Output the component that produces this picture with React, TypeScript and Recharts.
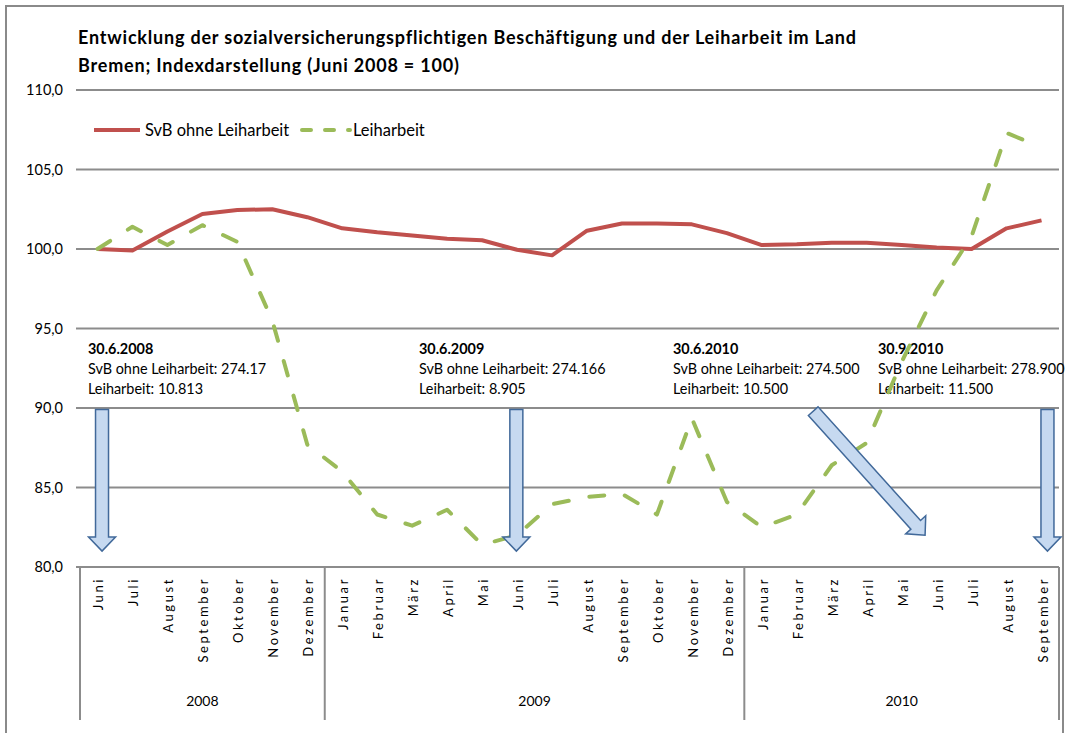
import React from 'react';
import { LineChart, Line, XAxis, YAxis, CartesianGrid, Legend, ReferenceLine } from 'recharts';

const FONT = 'Lato, "Open Sans", "DejaVu Sans", sans-serif';

// ---------- data ----------
const monthLabels = [
  'Juni', 'Juli', 'August', 'September', 'Oktober', 'November', 'Dezember',
  'Januar', 'Februar', 'März', 'April', 'Mai', 'Juni', 'Juli', 'August', 'September', 'Oktober', 'November', 'Dezember',
  'Januar', 'Februar', 'März', 'April', 'Mai', 'Juni', 'Juli', 'August', 'September',
];
const svbValues = [
  100.0, 99.9, 101.1, 102.2, 102.45, 102.5, 102.0,
  101.3, 101.05, 100.85, 100.65, 100.55, 99.95, 99.6, 101.15, 101.6, 101.6, 101.55, 101.0,
  100.25, 100.3, 100.4, 100.4, 100.25, 100.1, 100.0, 101.3, 101.8,
];
const leiharbeitValues = [
  100.0, 101.4, 100.25, 101.5, 100.45, 95.5, 87.7,
  86.0, 83.3, 82.6, 83.6, 81.4, 82.0, 83.95, 84.4, 84.6, 83.3, 89.35, 84.1,
  82.5, 83.3, 86.4, 87.8, 92.9, 97.4, 100.8, 107.3, 106.4,
];
const yearLabels = ['2008', '2009', '2010'];
const yearMonthCounts = [7, 12, 9];
const yTicks = [80, 85, 90, 95, 100, 105, 110];
const seriesNames = ['SvB ohne Leiharbeit', 'Leiharbeit'];

const titleLines = [
  'Entwicklung der sozialversicherungspflichtigen Beschäftigung und der Leiharbeit im Land',
  'Bremen; Indexdarstellung (Juni 2008 = 100)',
];
const annotationDates = ['30.6.2008', '30.6.2009', '30.6.2010', '30.9.2010'];
const annotationSvb = [
  'SvB ohne Leiharbeit: 274.17',
  'SvB ohne Leiharbeit: 274.166',
  'SvB ohne Leiharbeit: 274.500',
  'SvB ohne Leiharbeit: 278.900',
];
const annotationLeih = ['Leiharbeit: 10.813', 'Leiharbeit: 8.905', 'Leiharbeit: 10.500', 'Leiharbeit: 11.500'];

// arrows (start / end in data coordinates: month index, index value)
const arrowStartIdx = [0.13, 11.98, 20.47, 27.17];
const arrowEndIdx = [0.13, 11.98, 23.67, 27.17];
const arrowStartValue = [89.9, 89.9, 89.8, 89.9];
const arrowEndValue = [81.0, 81.0, 82.0, 81.0];

// ---------- derived ----------
const data = monthLabels.map((m, i) => ({
  idx: i,
  month: m,
  svb: svbValues[i],
  leih: leiharbeitValues[i],
}));

const yearStarts: number[] = [];
yearMonthCounts.reduce((acc, c) => {
  yearStarts.push(acc);
  return acc + c;
}, 0);
const yearCenters = yearStarts.map((s, i) => s + (yearMonthCounts[i] - 1) / 2);
const separators = [...yearStarts.map((s) => s - 0.5), monthLabels.length - 0.5];
const xTicks = Array.from(
  new Set([...monthLabels.map((_, i) => i), ...separators, ...yearCenters])
).sort((a, b) => a - b);

const GRID = '#8c8c8c';

const renderAxisTick = (props: any) => {
  const { x, y, payload } = props;
  const v = payload.value as number;
  const parts: React.ReactNode[] = [];
  if (Number.isInteger(v) && v >= 0 && v < monthLabels.length) {
    parts.push(
      <text
        key="m"
        transform={`translate(${x + 1},${y + 10}) rotate(-90)`}
        textAnchor="end"
        dominantBaseline="central"
        fontSize={13}
        letterSpacing={2.6}
        fill="#000"
        fontFamily={FONT}
      >
        {monthLabels[v]}
      </text>
    );
  }
  const si = separators.indexOf(v);
  if (si >= 0) {
    parts.push(<line key="s" x1={x} y1={y} x2={x} y2={y + 153} stroke={GRID} strokeWidth={2} />);
  }
  const yi = yearCenters.indexOf(v);
  if (yi >= 0) {
    parts.push(
      <text key="y" x={x} y={y + 139} textAnchor="middle" fontSize={14} fill="#000" fontFamily={FONT}>
        {yearLabels[yi]}
      </text>
    );
  }
  return <g>{parts}</g>;
};

const arrowShape = (p: any) => {
  const { x1, y1, x2, y2 } = p;
  const dx = x2 - x1;
  const dy = y2 - y1;
  const L = Math.sqrt(dx * dx + dy * dy) || 1;
  const ux = dx / L;
  const uy = dy / L;
  const nx = -uy;
  const ny = ux;
  const sw = 6.5;
  const hw = 13.5;
  const hl = 14;
  const bx = x2 - ux * hl;
  const by = y2 - uy * hl;
  const pts = [
    [x1 + nx * sw, y1 + ny * sw],
    [bx + nx * sw, by + ny * sw],
    [bx + nx * hw, by + ny * hw],
    [x2, y2],
    [bx - nx * hw, by - ny * hw],
    [bx - nx * sw, by - ny * sw],
    [x1 - nx * sw, y1 - ny * sw],
  ];
  return (
    <polygon
      points={pts.map((q) => `${q[0]},${q[1]}`).join(' ')}
      fill="#c6d9f0"
      stroke="#41699a"
      strokeWidth={1.5}
      strokeLinejoin="miter"
    />
  );
};

const renderLegend = (props: any) => {
  const payload = props.payload || [];
  const ordered = seriesNames
    .map((n) => payload.find((e: any) => e.value === n))
    .filter(Boolean);
  const sampleX = [6, 214];
  const textX = [57, 265];
  return (
    <svg width={400} height={30} style={{ overflow: 'visible' }}>
      {ordered.map((e: any, i: number) => {
        const dash = e.payload && e.payload.strokeDasharray ? '9 14' : undefined;
        return (
          <g key={i}>
            <line
              x1={sampleX[i]}
              x2={sampleX[i] + (dash ? 48 : 46)}
              y1={15}
              y2={15}
              stroke={e.color}
              strokeWidth={4}
              strokeDasharray={dash}
              strokeLinecap={dash ? 'round' : 'butt'}
            />
            <text x={textX[i]} y={21} fontSize={16.5} fill="#000" fontFamily={FONT}>
              {e.value}
            </text>
          </g>
        );
      })}
    </svg>
  );
};

export default function App() {
  return (
    <div
      style={{
        position: 'absolute',
        left: 0,
        top: 0,
        width: 1066,
        height: 733,
        overflow: 'hidden',
        background: '#fff',
        fontFamily: FONT,
      }}
    >
      <div
        style={{
          position: 'absolute',
          left: 5,
          top: 5,
          width: 1059,
          height: 780,
          border: '2px solid #8a8a8a',
          boxSizing: 'border-box',
        }}
      />
      <div
        style={{
          position: 'absolute',
          left: 78,
          top: 23,
          fontWeight: 700,
          fontSize: 18,
          letterSpacing: 0.8,
          lineHeight: '28px',
          color: '#000',
          whiteSpace: 'nowrap',
        }}
      >
        {titleLines.map((t, i) => (
          <div key={i}>{t}</div>
        ))}
      </div>
      {annotationDates.map((d, i) => {
        const lefts = [88, 419, 673, 878];
        return (
          <div
            key={i}
            style={{
              position: 'absolute',
              left: lefts[i],
              top: 339,
              fontSize: 14.4,
              lineHeight: '20px',
              color: '#000',
              whiteSpace: 'nowrap',
            }}
          >
            <div style={{ fontWeight: 700 }}>{d}</div>
            <div>{annotationSvb[i]}</div>
            <div>{annotationLeih[i]}</div>
          </div>
        );
      })}
      <div style={{ position: 'absolute', left: 0, top: 0 }}>
        <LineChart width={1066} height={733} data={data} margin={{ top: 90, right: 7, bottom: 0, left: 0 }}>
          <CartesianGrid vertical={false} stroke={GRID} strokeWidth={2} />
          <XAxis
            dataKey="idx"
            type="number"
            domain={[-0.5, monthLabels.length - 0.5]}
            ticks={xTicks}
            interval={0}
            height={166}
            tickLine={false}
            axisLine={false}
            tickSize={0}
            tickMargin={0}
            tick={renderAxisTick}
            allowDataOverflow
          />
          <YAxis
            domain={[80, 110]}
            ticks={yTicks}
            interval={0}
            width={80}
            axisLine={false}
            tickLine={{ stroke: GRID, strokeWidth: 2 }}
            tickSize={4}
            tickMargin={13}
            tick={{ fontSize: 14.5, fill: '#000', fontFamily: FONT }}
            tickFormatter={(v: number) => v.toFixed(1).replace('.', ',')}
          />
          <Legend
            layout="horizontal"
            verticalAlign="middle"
            align="center"
            content={renderLegend}
            wrapperStyle={{ left: 88, top: 115, width: 400, height: 30 }}
          />
          <Line
            dataKey="svb"
            name={seriesNames[0]}
            stroke="#c0504d"
            strokeWidth={4}
            strokeLinejoin="round"
            dot={false}
            activeDot={false}
            isAnimationActive={false}
          />
          <Line
            dataKey="leih"
            name={seriesNames[1]}
            stroke="#9bbb59"
            strokeWidth={4}
            strokeDasharray="15 21"
            strokeLinecap="round"
            strokeLinejoin="round"
            dot={false}
            activeDot={false}
            isAnimationActive={false}
          />
          {arrowStartIdx.map((s, i) => (
            <ReferenceLine
              key={`arrow-${i}`}
              segment={[
                { x: s, y: arrowStartValue[i] },
                { x: arrowEndIdx[i], y: arrowEndValue[i] },
              ]}
              shape={arrowShape}
            />
          ))}
        </LineChart>
      </div>
    </div>
  );
}
